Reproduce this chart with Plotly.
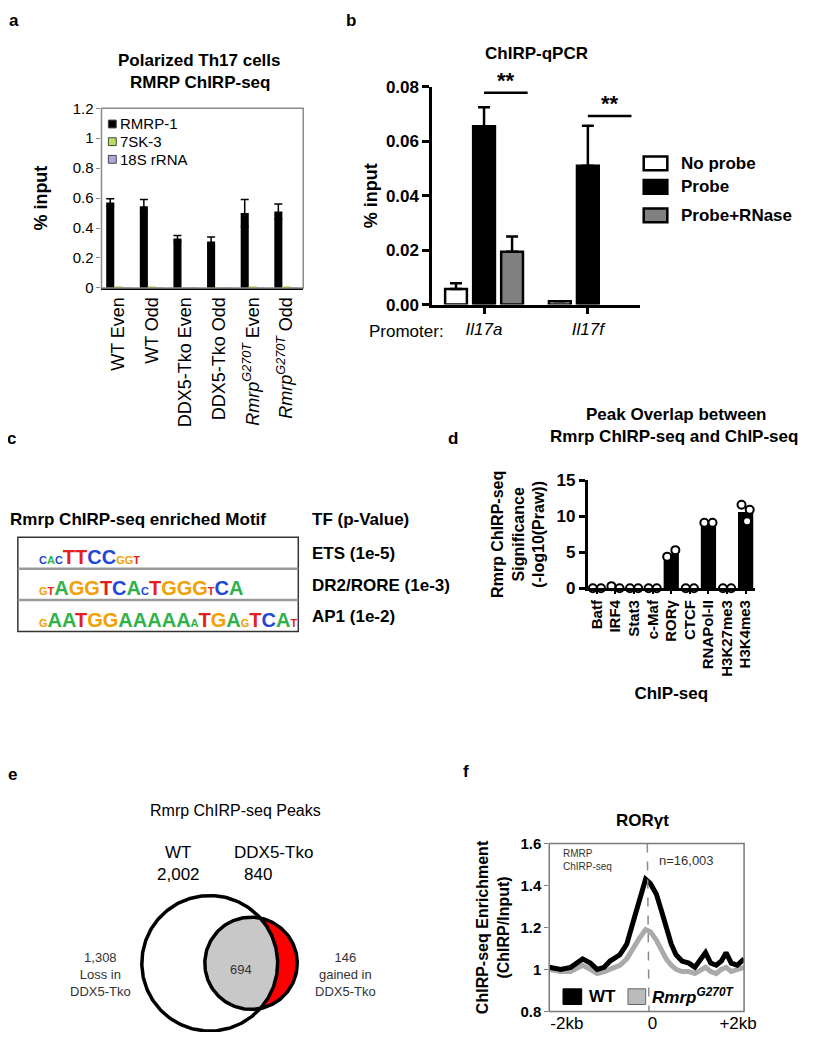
import math
import numpy as np
import plotly.graph_objects as go

# page body keeps its default 8px margin, so the figure is 16px smaller than the window
PAGE_W, PAGE_H, OFF = 832, 1050, 8
W, H = PAGE_W - 2 * OFF, PAGE_H - 2 * OFF
FONT = "Liberation Sans, Arial, sans-serif"

# ---------------- data ----------------
# panel a
a_samples = ["WT Even", "WT Odd", "DDX5-Tko Even", "DDX5-Tko Odd",
             "<i>Rmrp</i><sup><i>G270T</i></sup> Even", "<i>Rmrp</i><sup><i>G270T</i></sup> Odd"]
a_series = ["RMRP-1", "7SK-3", "18S rRNA"]
a_rmrp1 = [0.57, 0.545, 0.33, 0.31, 0.50, 0.51]
a_rmrp1_err = [0.025, 0.045, 0.02, 0.03, 0.09, 0.05]
a_7sk3 = [0.006, 0.005, 0.004, 0.004, 0.005, 0.005]
a_18s = [0.004, 0.004, 0.003, 0.003, 0.004, 0.003]
a_yticks = [0, 0.2, 0.4, 0.6, 0.8, 1.0, 1.2]
a_yticklabels = ["0", "0.2", "0.4", "0.6", "0.8", "1", "1.2"]

# panel b
b_promoters = ["Il17a", "Il17f"]
b_conditions = ["No probe", "Probe", "Probe+RNase"]
b_noprobe = [0.0057, 0.0012]
b_noprobe_err = [0.0021, 0.0]
b_probe = [0.0655, 0.0510]
b_probe_err = [0.0070, 0.0147]
b_rnase = [0.0194, None]
b_rnase_err = [0.0056, 0.0]
b_sig_y = [0.0778, 0.0692]
b_sig_label = ["**", "**"]
b_yticks = [0.0, 0.02, 0.04, 0.06, 0.08]

# panel c
c_header = ["Rmrp ChIRP-seq enriched Motif", "TF (p-Value)"]
motif_consensus = ["cacTTCCggt", "gtAGGTCAcTGGGtCA", "gAATGGAAAAAaTGAgTCAt"]
motif_tf = ["ETS (1e-5)", "DR2/RORE (1e-3)", "AP1 (1e-2)"]

# panel d
d_targets = ["Batf", "IRF4", "Stat3", "c-Maf", "RORγ", "CTCF", "RNAPol-II", "H3K27me3", "H3K4me3"]
d_rep1 = [0, 0.3, 0, 0, 4.4, 0, 9.1, 0, 11.6]
d_rep2 = [0, 0, 0, 0, 5.3, 0, 9.1, 0, 10.9]
d_rep3 = [None, None, None, None, None, None, None, None, 9.3]
d_yticks = [0, 5, 10, 15]

# panel e
e_wt_total = 2002
e_tko_total = 840
e_overlap = 694
e_wt_only = 1308
e_tko_only = 146

# panel f
f_pos_kb = [-2.41, -2.14, -1.91, -1.63, -1.45, -1.29, -1.13, -0.99, -0.76, -0.60, -0.46,
            -0.30, -0.16, -0.05, 0.09, 0.21, 0.32, 0.44, 0.55, 0.69, 0.85, 0.99, 1.13,
            1.24, 1.36, 1.49, 1.61, 1.72, 1.84, 1.98, 2.14]
f_wt = [1.01, 1.00, 1.01, 1.05, 1.03, 1.00, 1.01, 1.04, 1.07, 1.12, 1.22, 1.33, 1.43,
        1.41, 1.36, 1.28, 1.20, 1.12, 1.07, 1.04, 1.03, 1.01, 1.05, 1.08, 1.03, 1.02,
        1.04, 1.08, 1.03, 1.02, 1.05]
f_g270t = [1.00, 0.99, 0.99, 1.02, 1.00, 0.98, 0.99, 1.00, 1.02, 1.05, 1.10, 1.15, 1.19,
           1.18, 1.14, 1.09, 1.05, 1.02, 1.00, 0.99, 0.99, 0.98, 1.00, 1.01, 0.99, 0.98,
           1.00, 1.01, 0.99, 1.00, 1.01]
f_xticks = [-2, 0, 2]
f_xticklabels = ["-2kb", "0", "+2kb"]
f_yticks = [0.8, 1.0, 1.2, 1.4, 1.6]
f_yticklabels = ["0.8", "1", "1.2", "1.4", "1.6"]


def px(x):
    return (x - OFF) / W


def py(y):
    return 1 - (y - OFF) / H


fig = go.Figure()
annotations = []
shapes = []


def ann(text, x, y, size=15, bold=False, color="black", xanchor="center", yanchor="middle",
        family=FONT, angle=0, align="center"):
    annotations.append(dict(
        text=f"<b>{text}</b>" if bold else text, x=px(x), y=py(y), xref="paper", yref="paper",
        showarrow=False, xanchor=xanchor, yanchor=yanchor, textangle=angle, align=align,
        font=dict(size=size, color=color, family=family)))


# ---------------- panel a ----------------
a_vals = [a_rmrp1, a_7sk3, a_18s]
a_colors = ["black", "#b8e05c", "#b7a3e3"]
a_offsets = [-0.36, -0.12, 0.12]
for name, vals, col, off in zip(a_series, a_vals, a_colors, a_offsets):
    kw = {}
    if name == "RMRP-1":
        kw["error_y"] = dict(type="data", array=a_rmrp1_err, thickness=1.5, width=4, color="black")
    fig.add_trace(go.Bar(x=a_samples, y=vals, name=name, width=0.24, offset=off,
                         marker=dict(color=col, line=dict(width=0)), xaxis="x", yaxis="y",
                         showlegend=False, **kw))
shapes.append(dict(type="rect", xref="paper", yref="paper", x0=px(103), x1=px(308), y0=py(284),
                   y1=py(101), line=dict(color="#8a8a8a", width=1.5)))
for i, (name, col) in enumerate(zip(a_series, a_colors)):
    yc = 117 + i * 18
    shapes.append(dict(type="rect", xref="paper", yref="paper", x0=px(110), x1=px(118),
                       y0=py(yc + 4), y1=py(yc - 4), fillcolor=col, line=dict(color="#444", width=1)))
    ann(name, 120, yc, size=15, xanchor="left")
ann("Polarized Th17 cells", 203, 52, size=17, bold=True)
ann("RMRP ChIRP-seq", 203, 75, size=17, bold=True)

# ---------------- panel b ----------------
b_vals = [b_noprobe, b_probe, b_rnase]
b_errs = [b_noprobe_err, b_probe_err, b_rnase_err]
b_colors = ["white", "black", "#808080"]
b_offsets = [-0.375, -0.105, 0.165]
for name, vals, errs, col, off in zip(b_conditions, b_vals, b_errs, b_colors, b_offsets):
    fig.add_trace(go.Bar(x=b_promoters, y=vals, name=name, width=0.21, offset=off,
                         marker=dict(color=col, line=dict(color="black", width=2.5)),
                         error_y=dict(type="data", symmetric=False, array=errs,
                                      arrayminus=[0.0] * len(errs), thickness=2.5, width=6,
                                      color="black"),
                         xaxis="x2", yaxis="y2", showlegend=False))
for i, (yv, lab) in enumerate(zip(b_sig_y, b_sig_label)):
    shapes.append(dict(type="line", xref="x2", yref="y2", x0=i, x1=i + 0.42, y0=yv, y1=yv,
                       line=dict(color="black", width=2.5)))
    annotations.append(dict(text=f"<b>{lab}</b>", x=i + 0.21, y=yv, xref="x2", yref="y2",
                            showarrow=False, yanchor="bottom", yshift=-2,
                            font=dict(size=22, family=FONT, color="black")))
ann("Promoter:", 413, 328, size=17)
leg_y = [157, 181, 210]
for name, col, yc in zip(b_conditions, b_colors, leg_y):
    shapes.append(dict(type="rect", xref="paper", yref="paper", x0=px(654), x1=px(678),
                       y0=py(yc + 7), y1=py(yc - 7), fillcolor=col,
                       line=dict(color="black", width=2.5)))
    ann(name, 690, yc, size=17, bold=True, xanchor="left")
ann("ChIRP-qPCR", 545, 45, size=17, bold=True)

# ---------------- panel c ----------------
ann(c_header[0], 8, 520, size=17, bold=True, xanchor="left")
ann(c_header[1], 315, 520, size=17, bold=True, xanchor="left")
row_top = [538, 570, 602]
row_h = 32
shapes.append(dict(type="rect", xref="paper", yref="paper", x0=px(18), x1=px(303),
                   y0=py(row_top[0] + 3 * row_h), y1=py(row_top[0]),
                   line=dict(color="#333", width=1.5)))
for t in row_top[1:]:
    shapes.append(dict(type="line", xref="paper", yref="paper", x0=px(18), x1=px(303),
                       y0=py(t), y1=py(t), line=dict(color="#9a9a9a", width=2.5)))
letter_colors = {"A": "#2fb24a", "C": "#2347d6", "G": "#f5a000", "T": "#e3211c"}
big, small = 20, 11
for r, (motif, tf) in enumerate(zip(motif_consensus, motif_tf)):
    base = row_top[r] + row_h - 4
    spans = []
    for ch in motif:
        size = big if ch.isupper() else small
        spans.append(f'<span style="color:{letter_colors[ch.upper()]};font-size:{size}px">'
                     f'{ch.upper()}</span>')
    annotations.append(dict(
        text="<b>" + "".join(spans) + "</b>", x=px(37), y=py(base + 0.21 * big + 1),
        xref="paper", yref="paper", showarrow=False, xanchor="left", yanchor="bottom",
        font=dict(size=big, family=FONT, color="black")))
    ann(tf, 315, row_top[r] + row_h / 2 + 1, size=17, bold=True, xanchor="left")

# ---------------- panel d ----------------
d_idx = list(range(len(d_targets)))
d_means = []
for reps in zip(d_rep1, d_rep2, d_rep3):
    v = [r for r in reps if r is not None]
    d_means.append(sum(v) / len(v))
fig.add_trace(go.Bar(x=d_idx, y=d_means, width=0.82, marker=dict(color="black", line=dict(width=0)),
                     xaxis="x3", yaxis="y3", showlegend=False, name="mean"))
d_rep_offsets = [-0.22, 0.22, 0.08]
for reps, off in zip([d_rep1, d_rep2, d_rep3], d_rep_offsets):
    xs = [i + off for i, v in zip(d_idx, reps) if v is not None]
    ys = [v for v in reps if v is not None]
    fig.add_trace(go.Scatter(x=xs, y=ys, mode="markers", xaxis="x3", yaxis="y3",
                             marker=dict(symbol="circle", size=8, color="white",
                                         line=dict(color="black", width=2)),
                             showlegend=False, cliponaxis=False))
ann("Peak Overlap between", 687, 413, size=17, bold=True)
ann("Rmrp ChIRP-seq and ChIP-seq", 685, 435, size=17, bold=True)

# ---------------- panel e ----------------
r1, r2 = 69, 47            # circle radii in px
bx, by = 213, 972
sx = bx + 42
d = sx - bx
a_ = (r1 ** 2 - r2 ** 2 + d ** 2) / (2 * d)
h_ = math.sqrt(r1 ** 2 - a_ ** 2)


def arc(cx, cy, r, t0, t1, n=240):
    t = np.linspace(t0, t1, n)
    return list(cx + r * np.cos(t)), list(cy + r * np.sin(t))


def poly(xs, ys, fill, name):
    fig.add_trace(go.Scatter(x=xs, y=ys, mode="lines", fill="toself", fillcolor=fill,
                             line=dict(width=0), xaxis="x4", yaxis="y4", showlegend=False,
                             name=name, hoverinfo="skip"))


bxs, bys = arc(bx, by, r1, 0, 2 * math.pi)
sxs, sys_ = arc(sx, by, r2, 0, 2 * math.pi)
poly(bxs, bys, "white", "WT")
poly(sxs, sys_, "#ff0000", "DDX5-Tko only")
phi0 = math.atan2(h_, a_)
th1 = math.atan2(h_, a_ - d)
lx1, ly1 = arc(bx, by, r1, -phi0, phi0)
lx2, ly2 = arc(sx, by, r2, th1, 2 * math.pi - th1)
poly(lx1 + lx2, ly1 + ly2, "#c8c8c8", "overlap")
for xs, ys in [(bxs, bys), (sxs, sys_)]:
    fig.add_trace(go.Scatter(x=xs, y=ys, mode="lines", line=dict(color="black", width=3.5),
                             xaxis="x4", yaxis="y4", showlegend=False, hoverinfo="skip"))

ann("Rmrp ChIRP-seq Peaks", 239, 816, size=16)
ann("WT", 181, 859, size=17)
ann(f"{e_wt_total:,}", 181, 882, size=17)
ann("DDX5-Tko", 278, 859, size=17)
ann(f"{e_tko_total:,}", 262, 882, size=17)
ann(f"{e_wt_only:,}<br>Loss in<br>DDX5-Tko", 102, 983, size=13, color="#333")
ann(f"{e_overlap:,}", 245, 978, size=13, color="#333")
ann(f"{e_tko_only:,}<br>gained in<br>DDX5-Tko", 351, 983, size=13, color="#333")

# ---------------- panel f ----------------
fig.add_trace(go.Scatter(x=f_pos_kb, y=f_g270t, mode="lines", name="Rmrp G270T",
                         line=dict(color="#aaaaaa", width=5), xaxis="x5", yaxis="y5",
                         showlegend=False))
fig.add_trace(go.Scatter(x=f_pos_kb, y=f_wt, mode="lines", name="WT",
                         line=dict(color="black", width=5), xaxis="x5", yaxis="y5",
                         showlegend=False))
shapes.append(dict(type="line", xref="x5", yref="y5", x0=-0.12, x1=-0.08, y0=1.6, y1=0.8,
                   line=dict(color="#8a8a8a", width=1.5, dash="dash")))
shapes.append(dict(type="rect", xref="paper", yref="paper", x0=px(558), x1=px(756), y0=py(1021),
                   y1=py(850), line=dict(color="#7a7a7a", width=1.5)))
shapes.append(dict(type="rect", xref="paper", yref="paper", x0=px(572), x1=px(591), y0=py(1014),
                   y1=py(998), fillcolor="black", line=dict(color="black", width=1)))
ann("WT", 596, 1006, size=17, bold=True, xanchor="left")
shapes.append(dict(type="rect", xref="paper", yref="paper", x0=px(638), x1=px(656), y0=py(1014),
                   y1=py(998), fillcolor="#bbbbbb", line=dict(color="#666", width=1)))
ann("<b><i>Rmrp</i></b><sup><b><i>G270T</i></b></sup>", 660, 1005, size=17, xanchor="left")
ann("RMRP<br>ChIRP-seq", 570, 867, size=10, color="#333", xanchor="left", align="left")
ann("n=16,003", 668, 867, size=13, color="#333", xanchor="left")
ann("RORγt", 653, 827, size=17, bold=True)

# ---------------- panel labels ----------------
for lab, x, y in [("a", 14, 12), ("b", 357, 12), ("c", 12, 437), ("d", 460, 437),
                  ("e", 13, 780), ("f", 473, 777)]:
    ann(lab, x, y, size=17, bold=True)

# ---------------- layout ----------------
blk = dict(color="black", family=FONT)
fig.update_layout(
    width=W, height=H, margin=dict(l=0, r=0, t=0, b=0),
    paper_bgcolor="white", plot_bgcolor="white", showlegend=False,
    font=dict(family=FONT, color="black"), barmode="overlay",
    xaxis=dict(domain=[px(103), px(308)], anchor="y", type="category", range=[-0.5, 5.5],
               tickangle=-90, tickfont=dict(size=18, **blk), showline=True, linecolor="black",
               linewidth=2, ticks="", showgrid=False, zeroline=False),
    yaxis=dict(domain=[py(284), py(101)], anchor="x", range=[0, 1.2], tickvals=a_yticks,
               ticktext=a_yticklabels, ticks="outside", ticklen=4, tickcolor="#888",
               showline=False, tickfont=dict(size=15, **blk), showgrid=False, zeroline=False,
               title=dict(text="<b>% input</b>", font=dict(size=18, **blk), standoff=20)),
    xaxis2=dict(domain=[px(439), px(650)], anchor="y2", type="category", range=[-0.5, 1.5],
                tickvals=b_promoters, ticktext=[f"<i>{p}</i>" for p in b_promoters],
                tickfont=dict(size=17, **blk), showline=True, linecolor="black", linewidth=2.5,
                ticks="outside", ticklen=7, tickwidth=2.5, tickcolor="black", showgrid=False,
                zeroline=False),
    yaxis2=dict(domain=[py(301), py(79)], anchor="x2", range=[0, 0.08], tickvals=b_yticks,
                tickformat=".2f", ticks="outside", ticklen=7, tickwidth=2.5, tickcolor="black",
                showline=True, linecolor="black", linewidth=2.5,
                tickfont=dict(size=17, weight="bold", **blk), showgrid=False, zeroline=False,
                title=dict(text="<b>% input</b>", font=dict(size=18, **blk), standoff=4)),
    xaxis3=dict(domain=[px(597), px(767)], anchor="y3", range=[-0.5, 8.5], tickvals=d_idx,
                ticktext=d_targets, tickangle=-90, tickfont=dict(size=15, weight="bold", **blk),
                showline=True, linecolor="black", linewidth=2.5, ticks="outside", ticklen=3,
                tickwidth=2, tickcolor="black", showgrid=False, zeroline=False,
                title=dict(text="<b>ChIP-seq</b>", font=dict(size=17, **blk), standoff=12)),
    yaxis3=dict(domain=[py(590), py(480)], anchor="x3", range=[0, 15], tickvals=d_yticks,
                ticks="outside", ticklen=6, tickwidth=2.5, tickcolor="black", showline=True,
                linecolor="black", linewidth=2.5, tickfont=dict(size=17, weight="bold", **blk),
                showgrid=False, zeroline=False,
                title=dict(text="<b>Rmrp ChIRP-seq<br>Significance<br>(-log10(Praw))</b>",
                           font=dict(size=16, **blk), standoff=8)),
    xaxis4=dict(domain=[0, px(424)], anchor="y4", range=[OFF, 424], visible=False),
    yaxis4=dict(domain=[0, py(740)], anchor="x4", range=[PAGE_H - OFF, 740], visible=False),
    xaxis5=dict(domain=[px(558), px(756)], anchor="y5", range=[-2.41, 2.14], tickvals=f_xticks,
                ticktext=f_xticklabels, tickfont=dict(size=17, **blk), ticks="", showline=False,
                showgrid=False, zeroline=False),
    yaxis5=dict(domain=[py(1021), py(850)], anchor="x5", range=[0.8, 1.6], tickvals=f_yticks,
                ticktext=f_yticklabels, ticks="outside", ticklen=4, tickcolor="#7a7a7a",
                tickfont=dict(size=15, weight="bold", **blk), showline=False, showgrid=False,
                zeroline=False,
                title=dict(text="<b>ChIRP-seq Enrichment<br>(ChIRP/Input)</b>",
                           font=dict(size=16, **blk), standoff=6)),
    annotations=annotations, shapes=shapes,
)

fig.write_html("out.html", config={"displayModeBar": False})
